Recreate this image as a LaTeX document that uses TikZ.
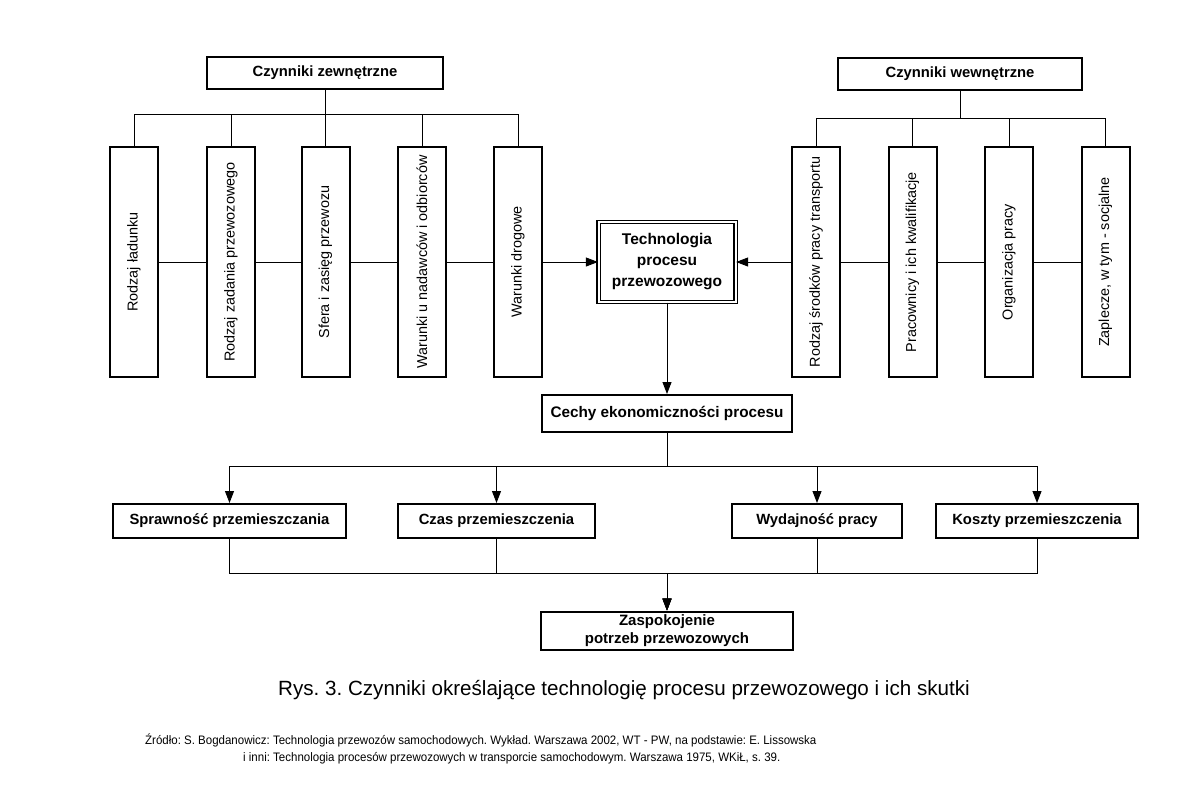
\documentclass[tikz,border=0pt]{standalone}
\usepackage{fontspec}
\setsansfont{Liberation Sans}
\newfontfamily\narrowsans[FakeStretch=0.935]{Liberation Sans}
\usepackage{graphicx}
\usetikzlibrary{positioning,arrows.meta}

\newcommand{\vtext}[1]{\rotatebox{90}{#1}}

\begin{document}
\frenchspacing
\begin{tikzpicture}[
  x=1pt, y=-1pt,
  font=\sffamily,
  box/.style={rectangle, draw=black, line width=2pt, fill=white, inner sep=2pt,
              align=center, font=\sffamily\bfseries\fontsize{14.8}{21}\selectfont},
  hbox/.style={box, minimum height=34pt},
  vbox/.style={box, font=\sffamily\fontsize{14.4}{17}\selectfont,
               minimum width=48pt, minimum height=230pt},
  dbl/.style={box, line width=1.2pt, double, double distance=2pt,
              font=\sffamily\bfseries\fontsize{15.5}{21}\selectfont,
              minimum width=137pt, minimum height=80pt},
  con/.style={draw=black, line width=0.9pt},
  arr/.style={con, -{Triangle[length=12pt,width=9pt]}}
]
\useasboundingbox (0,0) rectangle (1193,788);

% external factors
\node[box, minimum width=236pt, minimum height=32pt] (zew) at (325,73) {Czynniki zewnętrzne};
\node[vbox] (l1) at (134,262)   {\vtext{Rodzaj ładunku}};
\node[vbox] (l2) at (231,262)   {\vtext{Rodzaj zadania przewozowego}};
\node[vbox] (l3) at (325.5,262) {\vtext{Sfera i zasięg przewozu}};
\node[vbox] (l4) at (422,262)   {\vtext{Warunki u nadawców i odbiorców}};
\node[vbox] (l5) at (518,262)   {\vtext{Warunki drogowe}};

% internal factors
\node[box, minimum width=244pt, minimum height=32pt] (wew) at (960,74) {Czynniki wewnętrzne};
\node[vbox] (r1) at (816,262)    {\vtext{Rodzaj środków pracy transportu}};
\node[vbox] (r2) at (912.5,262)  {\vtext{Pracownicy i ich kwalifikacje}};
\node[vbox] (r3) at (1009,262)   {\vtext{Organizacja pracy}};
\node[vbox] (r4) at (1105.5,262) {\vtext{Zaplecze, w tym - socjalne}};

% process
\node[dbl] (tech) at (667,262) {Technologia\\procesu\\przewozowego};
\node[hbox, minimum width=250pt, minimum height=37pt, font=\sffamily\bfseries\fontsize{15.3}{21}\selectfont]
  (cechy) at (667,413.5) {Cechy ekonomiczności procesu};

\node[hbox, minimum width=233pt] (spr)  at (229.5,521) {Sprawność przemieszczania};
\node[hbox, minimum width=197pt] (czas) at (496.5,521) {Czas przemieszczenia};
\node[hbox, minimum width=170pt] (wyd)  at (817,521)   {Wydajność pracy};
\node[hbox, minimum width=202pt] (kosz) at (1037,521)  {Koszty przemieszczenia};

\node[hbox, minimum width=252pt, minimum height=38pt, font=\sffamily\bfseries\fontsize{15}{18}\selectfont]
  (zasp) at (667,630.5) {Zaspokojenie\\potrzeb przewozowych};

% tree connectors
\draw[con] (l1.north) -- ++(0,-32) -| (zew.south);
\draw[con] (l2.north) -- ++(0,-32) -| (zew.south);
\draw[con] (l3.north) -- ++(0,-32) -| (zew.south);
\draw[con] (l4.north) -- ++(0,-32) -| (zew.south);
\draw[con] (l5.north) -- ++(0,-32) -| (zew.south);

\draw[con] (r1.north) -- ++(0,-28) -| (wew.south);
\draw[con] (r2.north) -- ++(0,-28) -| (wew.south);
\draw[con] (r3.north) -- ++(0,-28) -| (wew.south);
\draw[con] (r4.north) -- ++(0,-28) -| (wew.south);

\draw[con] (l1) -- (l2);
\draw[con] (l2) -- (l3);
\draw[con] (l3) -- (l4);
\draw[con] (l4) -- (l5);
\draw[arr] (l5) -- (tech);

\draw[con] (r4) -- (r3);
\draw[con] (r3) -- (r2);
\draw[con] (r2) -- (r1);
\draw[arr] (r1) -- (tech);

\draw[arr] (tech) -- (cechy);

\draw[arr] (cechy.south) -- ++(0,33) -| (spr.north);
\draw[arr] (cechy.south) -- ++(0,33) -| (czas.north);
\draw[arr] (cechy.south) -- ++(0,33) -| (wyd.north);
\draw[arr] (cechy.south) -- ++(0,33) -| (kosz.north);

\draw[arr] (spr.south)  -- ++(0,34) -| (zasp.north);
\draw[arr] (czas.south) -- ++(0,34) -| (zasp.north);
\draw[arr] (wyd.south)  -- ++(0,34) -| (zasp.north);
\draw[arr] (kosz.south) -- ++(0,34) -| (zasp.north);

% caption and source
\node[font=\sffamily\fontsize{20.6}{23}\selectfont] (cap) at (624,690)
  {Rys. 3. Czynniki określające technologię procesu przewozowego i ich skutki};
\node[anchor=base west, inner sep=0pt, font=\narrowsans\fontsize{12.3}{14}\selectfont] (src1) at (145,744)
  {Źródło: S. Bogdanowicz: Technologia przewozów samochodowych. Wykład. Warszawa 2002, WT - PW, na podstawie: E. Lissowska};
\node[anchor=base west, inner sep=0pt, font=\narrowsans\fontsize{12.3}{14}\selectfont] (src2) at (243,761)
  {i inni: Technologia procesów przewozowych w transporcie samochodowym. Warszawa 1975, WKiŁ, s. 39.};
\end{tikzpicture}
\end{document}
